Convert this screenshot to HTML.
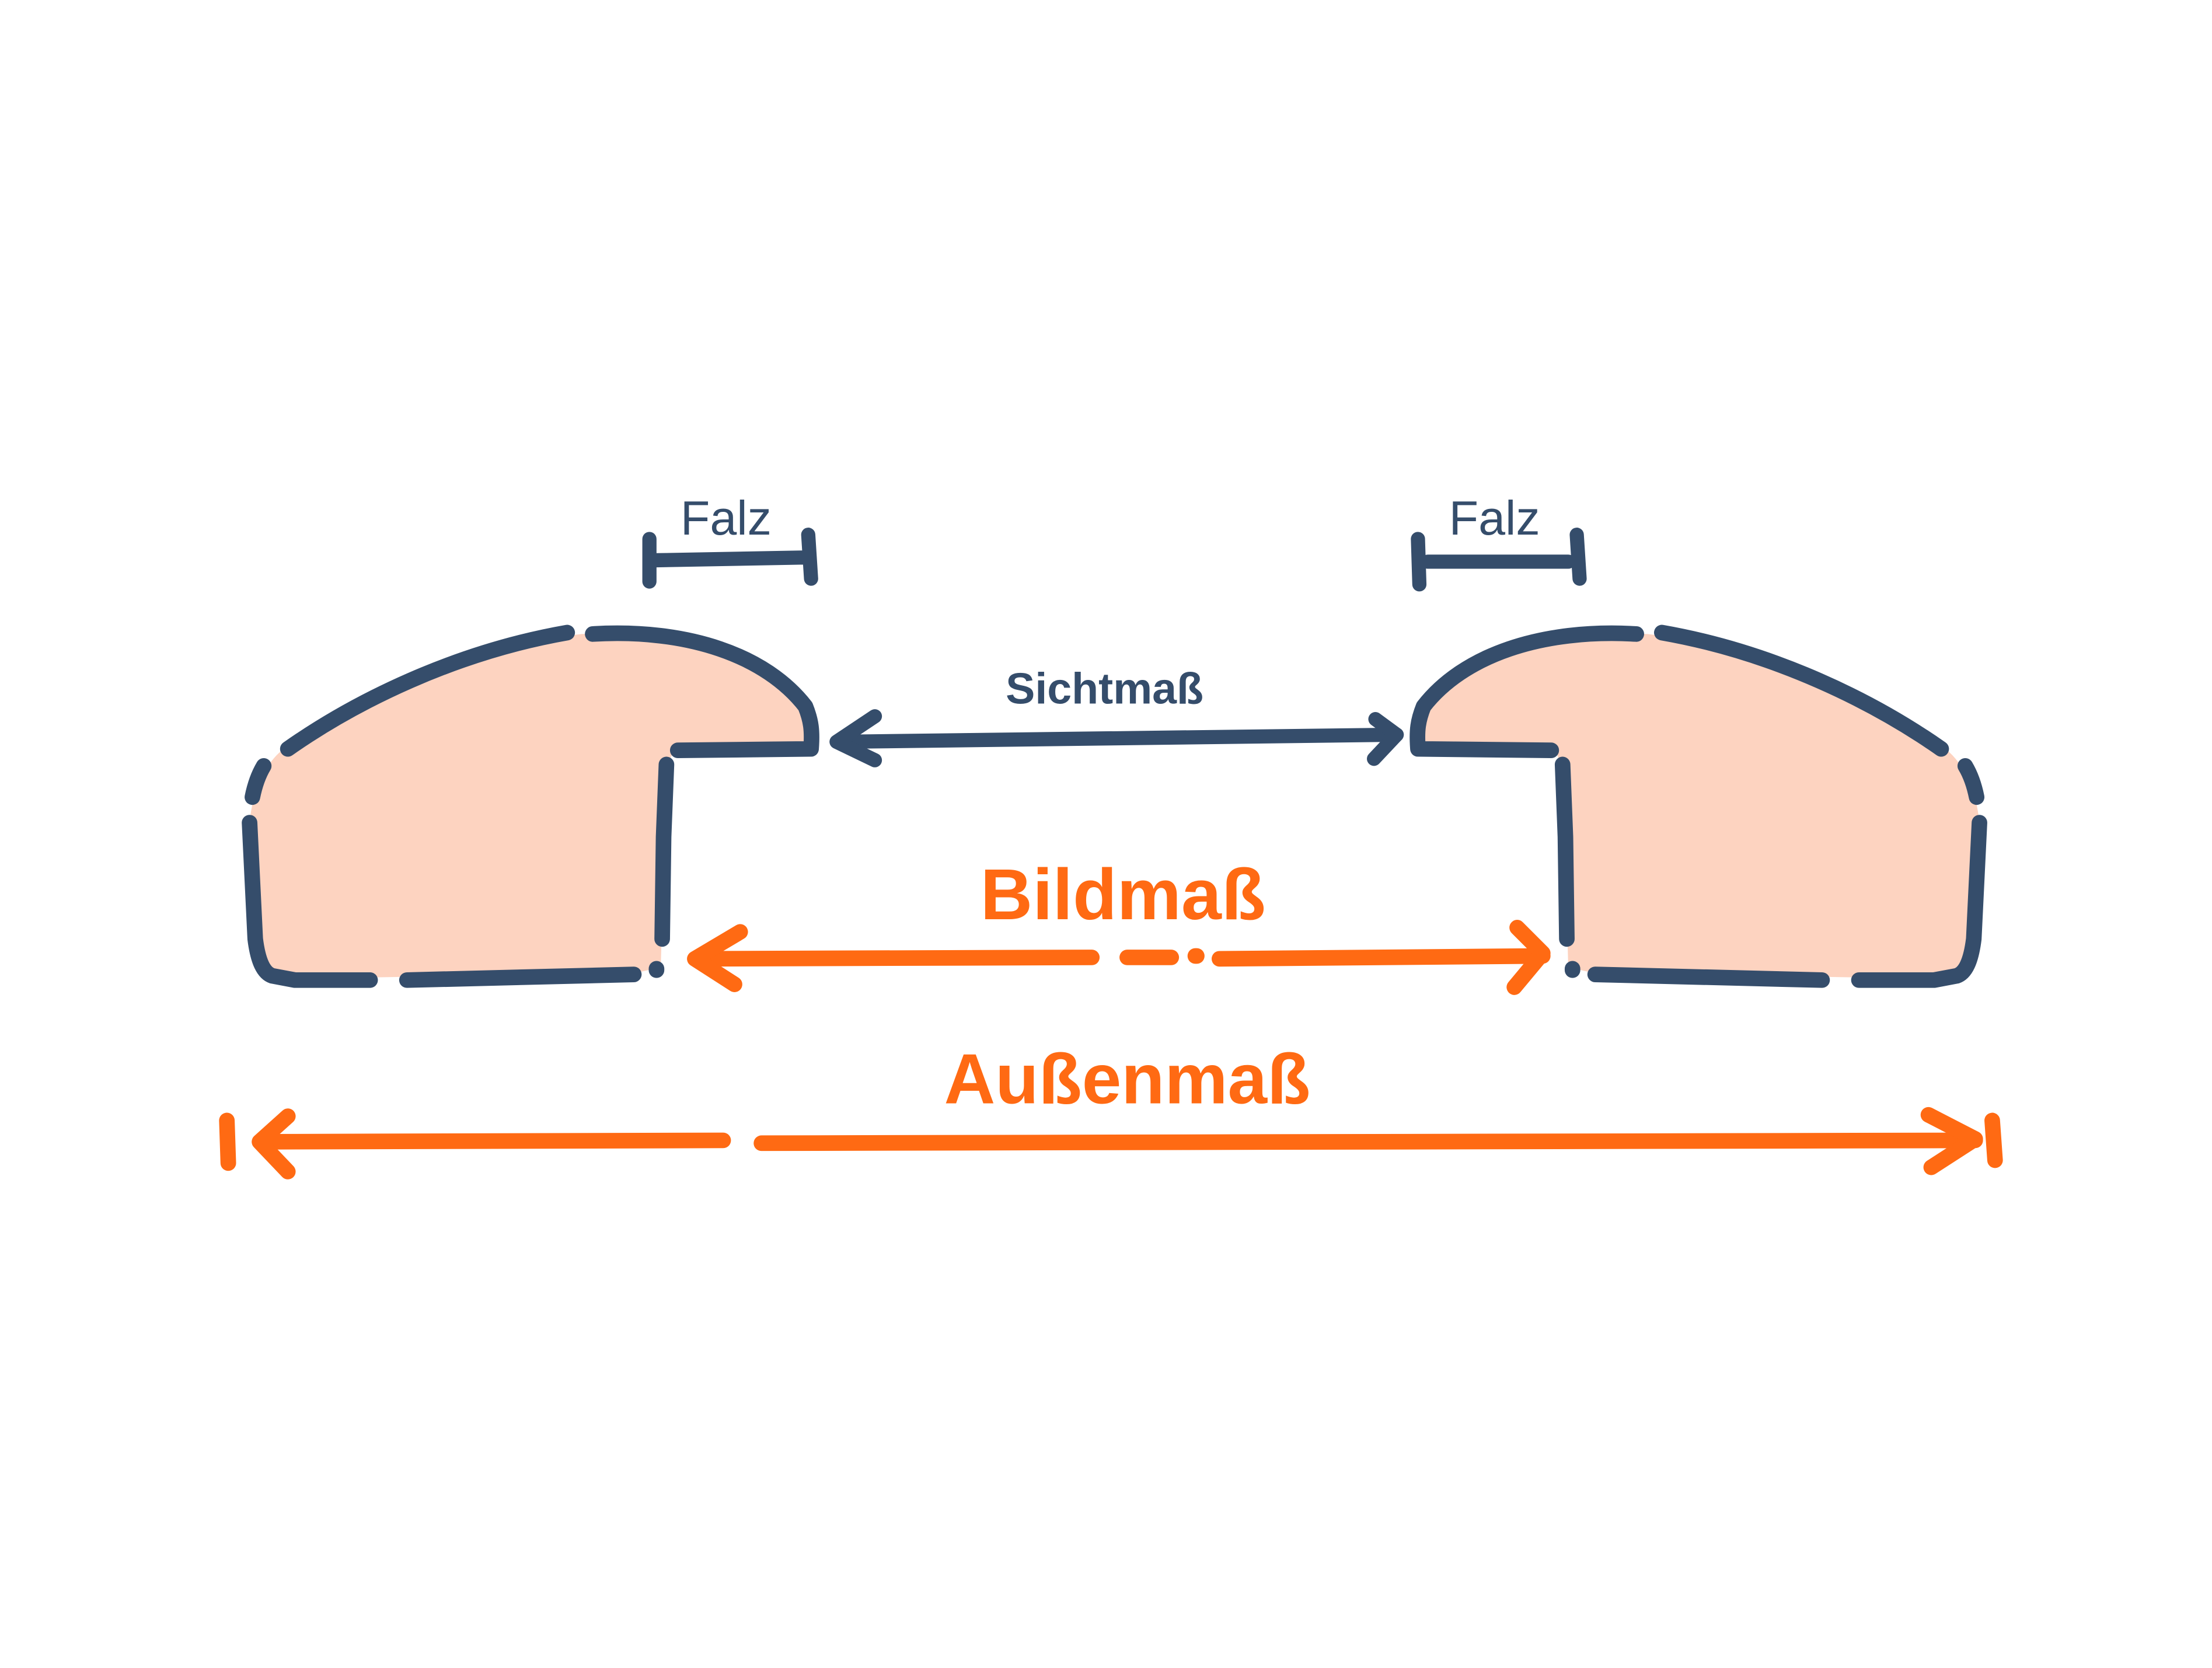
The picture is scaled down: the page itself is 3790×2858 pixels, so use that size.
<!DOCTYPE html>
<html><head><meta charset="utf-8"><style>html,body{margin:0;padding:0;background:#fff}svg{display:block}</style></head>
<body>
<svg width="3790" height="2858" viewBox="0 0 1560 1176" preserveAspectRatio="none" xmlns="http://www.w3.org/2000/svg">
<rect width="1560" height="1176" fill="#fff"/>
<defs>
<g id="prof">
<path d="M176,580 L180,662 C182,680 186,686 192,688 L208,690 L448,686 L466,682 L470,540 L476,528 L570,530 C572,515 568,505 566,498 C540,462 485,444 410,447 C320,458 250,492 200,528 C185,540 178,560 176,580 Z" fill="#fdd3c0"/>
<g fill="none" stroke="#354d6b" stroke-width="11" stroke-linecap="round" stroke-linejoin="round">
<path d="M203,528 C250,495 320,460 400,446"/>
<path d="M418,447 C485,443 540,462 568,498 C572,508 573,515 572,528 L478,529"/>
<path d="M178,562 C180,552 183,545 186,540"/>
<path d="M176,580 L180,662 C182,678 186,686 192,688 L208,691 L261,691"/>
<path d="M287,691 L447,687"/>
<path d="M470,539 L468,590 L467,662"/>
<path d="M463,683 L463,684"/>
</g>
</g>
</defs>
<use href="#prof"/>
<use href="#prof" transform="translate(1572,0) scale(-1,1)"/>
<g fill="none" stroke="#354d6b" stroke-width="10" stroke-linecap="round" stroke-linejoin="round">
<path d="M458,380 L458,410 M463,395 L570,393 M570,377 L572,408"/>
<path d="M1000,380 L1001,412 M1007,396 L1106,396 M1112,377 L1114,408"/>
<path d="M592,523 L985,518"/>
<path d="M617,505 L590,523 L617,536"/>
<path d="M970,507 L985,518 L969,535"/>
</g>
<g fill="none" stroke="#ff6a13" stroke-width="11" stroke-linecap="round" stroke-linejoin="round">
<path d="M492,676 L770,675 M795,675 L826,675 M843,674 L844,674 M860,676 L1088,674"/>
<path d="M522,657 L490,676 L518,694"/>
<path d="M1070,654 L1088,672 L1068,696"/>
<path d="M185,805 L510,804 M537,806 L1393,804"/>
<path d="M160,790 L161,820 M1405,790 L1407,818"/>
<path d="M203,787 L183,805 L203,826"/>
<path d="M1360,786 L1393,803 L1362,823"/>
</g>
<g font-family="Liberation Sans, sans-serif" text-anchor="middle">
<text x="512" y="377" font-size="34" fill="#354d6b">Falz</text>
<text x="1054" y="377" font-size="34" fill="#354d6b">Falz</text>
<text x="779" y="496" font-size="31" font-weight="bold" fill="#354d6b">Sichtmaß</text>
<text x="792" y="648" font-size="51" font-weight="bold" fill="#ff6a13">Bildmaß</text>
<text x="795" y="778" font-size="50" font-weight="bold" fill="#ff6a13">Außenmaß</text>
</g>
</svg>
</body></html>
